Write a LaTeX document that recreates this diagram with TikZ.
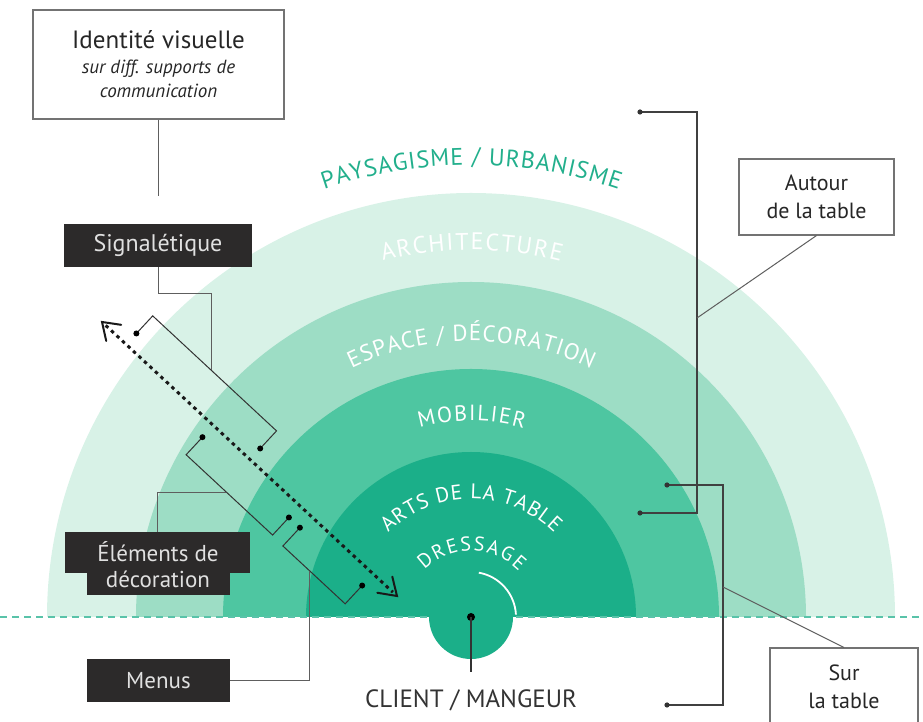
\documentclass[tikz,border=0pt]{standalone}
\usepackage{fontspec}
\setmainfont{PT Sans}
\usetikzlibrary{decorations.text,arrows.meta,calc}
\definecolor{gA}{HTML}{D8F2E7}
\definecolor{gE}{HTML}{9DDDC5}
\definecolor{gM}{HTML}{4EC6A1}
\definecolor{gT}{HTML}{1BAF89}
\definecolor{gP}{HTML}{22AF8C}
\definecolor{boxd}{HTML}{2C2A2A}
\definecolor{lineg}{HTML}{5E5E5E}
\begin{document}
\begin{tikzpicture}[x=1pt,y=1pt,
  lightbox/.style={draw=black!55, line width=1.1pt, fill=white, inner sep=0pt, align=center, text=black!85},
  darkbox/.style={fill=boxd, inner sep=0pt, text=white!88!black, align=center},
  conn/.style={draw=lineg, line width=1pt},
  bracket/.style={draw=black!80, line width=1pt},
  chevron/.style={draw=black!90, line width=2pt, line cap=round, line join=miter},
  ringtext/.style={decorate, decoration={text along path, text align=center, text color=white, text={#1}}},
]
\useasboundingbox (0,0) rectangle (923,722);
\coordinate (C) at (471,105);
% bands
\begin{scope}
\clip (0,105) rectangle (923,722);
\fill[gA] (C) circle[radius=424];
\fill[gE] (C) circle[radius=335];
\fill[gM] (C) circle[radius=248];
\fill[gT] (C) circle[radius=165];
\end{scope}
% baseline
\draw[gP!75, line width=2pt, dash pattern=on 7pt off 5pt] (0,105) -- (923,105);
% ring texts
\path[ringtext={|\fontsize{24}{24}\selectfont\kern0.9pt|PAYSAGISME / URBANISME}, decoration={text color=gP}]
  ($(C)+(160:452)$) arc[start angle=160, end angle=20, radius=452];
\path[ringtext={|\fontsize{24}{24}\selectfont\kern1.7pt|ARCHITECTURE}]
  ($(C)+(160:367)$) arc[start angle=160, end angle=20, radius=367];
\path[ringtext={|\fontsize{23}{23}\selectfont\kern0.95pt|ESPACE / DÉCORATION}]
  ($(C)+(165:276)$) arc[start angle=165, end angle=15, radius=276];
\path[ringtext={|\fontsize{22}{22}\selectfont\kern1.6pt|MOBILIER}]
  ($(C)+(165:196)$) arc[start angle=165, end angle=15, radius=196];
\path[ringtext={|\fontsize{21}{21}\selectfont\kern0.9pt|ARTS DE LA TABLE}]
  ($(C)+(175:118)$) arc[start angle=175, end angle=5, radius=118];
\path[ringtext={|\fontsize{20}{20}\selectfont\kern1.9pt|DRESSAGE}]
  ($(C)+(178:66)$) arc[start angle=178, end angle=2, radius=66];
% client
\node[circle, fill=gT, minimum size=84pt, inner sep=0pt] (client) at (C) {};
\draw[white, line width=1.8pt] ($(C)+(3:45)$) arc[start angle=3, end angle=80, radius=45];
\node[circle, fill=black, minimum size=8pt, inner sep=0pt] (cdot) at (C) {};
\coordinate (clend) at (471,50);
\draw[black!80, line width=1.5pt] (cdot.center) -- (clend);
\node[font=\fontsize{25}{25}\selectfont, text=black!80] (clientlbl) at (471,22) {CLIENT / MANGEUR};
% dashed double arrow
\coordinate (A) at (102,400);
\coordinate (B) at (397,126);
\begin{scope}[shift={(A)}, rotate=-42.89]
  \coordinate (a0) at (5,0);   \coordinate (a1) at (397,0);
  \coordinate (ca1) at (16,11); \coordinate (ca2) at (16,-11);
  \coordinate (cb1) at (386,11); \coordinate (cb2) at (386,-11);
  \coordinate (b1s) at (33,15);  \coordinate (b1a) at (33,39);
  \coordinate (b1b) at (202,39); \coordinate (b1e) at (202,15);
  \coordinate (s1) at (113,39);
  \coordinate (b2s) at (152,-16); \coordinate (b2a) at (152,-40);
  \coordinate (b2b) at (270,-40); \coordinate (b2e) at (270,-16);
  \coordinate (e1) at (207,-40);
  \coordinate (b3s) at (285,-16); \coordinate (b3a) at (285,-41);
  \coordinate (b3b) at (370,-41); \coordinate (b3e) at (370,-16);
  \coordinate (m1) at (321.6,-41);
\end{scope}
\draw[black!90, line width=3pt, dash pattern=on 3.5pt off 4pt] (a0) -- (a1);
\draw[chevron] (ca1) -- (A) -- (ca2);
\draw[chevron] (cb1) -- (B) -- (cb2);
% brackets along the arrow
\draw[bracket] (b1s) -- (b1a) -- (b1b) -- (b1e);
\draw[bracket] (b2s) -- (b2a) -- (b2b) -- (b2e);
\draw[bracket] (b3s) -- (b3a) -- (b3b) -- (b3e);
\foreach \p in {b1s,b1e,b2s,b2e,b3s,b3e} \fill[black] (\p) circle[radius=3];
% right brackets
\coordinate (r1s) at (640,610); \coordinate (r1a) at (697,610);
\coordinate (r1b) at (697,209); \coordinate (r1e) at (640,209);
\coordinate (r1m) at (697,404);
\coordinate (r2s) at (667,237); \coordinate (r2a) at (723,237);
\coordinate (r2b) at (723,17);  \coordinate (r2e) at (667,17);
\coordinate (r2m) at (723,135);
\draw[draw=black!75, line width=1.1pt] (r1s) -- (r1a) -- (r1b) -- (r1e);
\draw[draw=black!75, line width=1.1pt] (r2s) -- (r2a) -- (r2b) -- (r2e);
\foreach \p in {r1s,r1e,r2s,r2e} \fill[black!80] (\p) circle[radius=2.6];
% boxes
\node[lightbox, minimum width=251, minimum height=109, font=\fontsize{19}{24}\selectfont] (ident) at (158.5,657.5)
  {{\fontsize{25}{25}\selectfont Identité visuelle}\\[1pt] {\itshape sur diff. supports de}\\ {\itshape communication}};
\coordinate (identend) at (158.5,526);
\draw[conn] (ident.south) -- (identend);
\node[darkbox, minimum width=188, minimum height=43, font=\fontsize{24}{24}\selectfont] (sig) at (158,476.5) {Signalétique};
\draw[conn] (sig.south) -- ++(0,-26) -| (s1);
\node[darkbox, minimum width=185, minimum height=41] (ele) at (157.5,169.5) {};
\node[darkbox, minimum width=143, minimum height=22] (ele2) at (158.5,138) {};
\node[align=center, text=white!88!black, font=\fontsize{23}{26}\selectfont, inner sep=0pt] (eletext) at (158,157) {Éléments de\\décoration};
\draw[conn] (ele.north) |- (e1);
\node[darkbox, minimum width=143, minimum height=43, font=\fontsize{23}{23}\selectfont] (menus) at (158.5,41.5) {Menus};
\draw[conn] (menus.east) -| (m1);
\node[lightbox, minimum width=155, minimum height=76, font=\fontsize{22}{28}\selectfont] (autour) at (816.5,525) {Autour\\de la table};
\draw[conn] (r1m) -- (autour.south);
\node[lightbox, minimum width=148, minimum height=77, font=\fontsize{22}{28}\selectfont] (sur) at (844,35.5) {Sur\\la table};
\draw[conn] (r2m) -- (sur.north);
\end{tikzpicture}
\end{document}
